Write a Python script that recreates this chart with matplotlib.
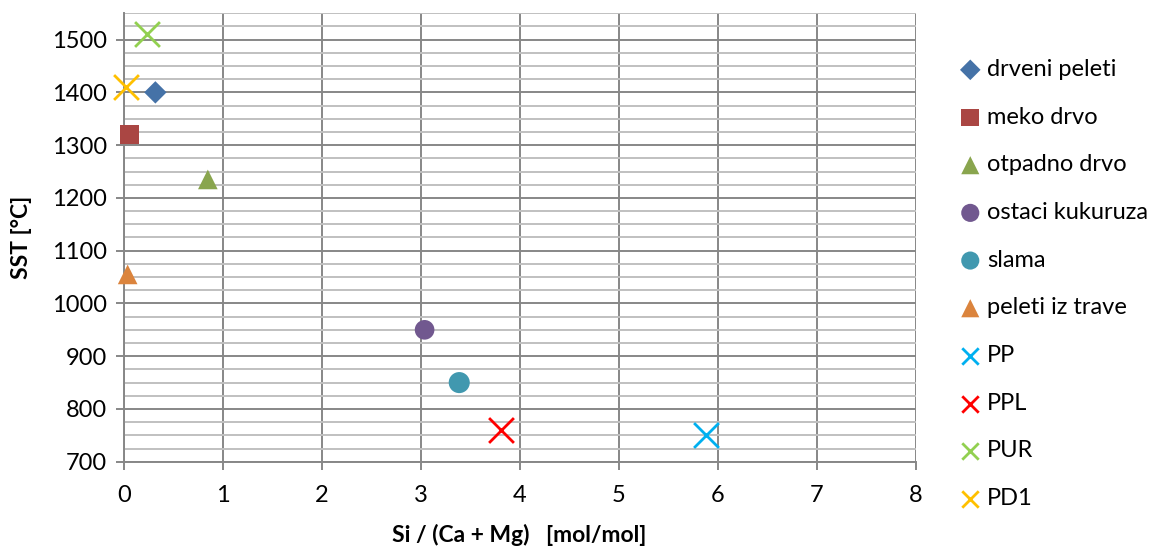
import matplotlib.pyplot as plt
from matplotlib.ticker import MultipleLocator

plt.rcParams['font.family'] = ['Lato', 'DejaVu Sans']

# Data
labels = ['drveni peleti', 'meko drvo', 'otpadno drvo', 'ostaci kukuruza', 'slama',
          'peleti iz trave', 'PP', 'PPL', 'PUR', 'PD1']
si_ratio = [0.32, 0.06, 0.85, 3.04, 3.39, 0.04, 5.88, 3.81, 0.24, 0.02]
sst = [1400, 1320, 1235, 950, 850, 1055, 750, 760, 1510, 1410]

markers = ['D', 's', '^', 'o', 'o', '^', 'x', 'x', 'x', 'x']
colors = ['#4572A7', '#AA4643', '#89A54E', '#71588F', '#4198AF', '#DB843D',
          '#00B0F0', '#FF0000', '#92D050', '#FFC000']
sizes = [130, 190, 200, 200, 230, 200, 320, 320, 320, 320]
legend_sizes = [110, 160, 170, 170, 170, 170, 140, 140, 140, 140]

fig = plt.figure(figsize=(11.56, 5.51), dpi=100)
ax = fig.add_axes([0.107, 0.162, 0.685, 0.814])

for x, y, lab, m, c, s in zip(si_ratio, sst, labels, markers, colors, sizes):
    if m == 'x':
        ax.scatter(x, y, marker=m, color=c, s=s, linewidths=2, label=lab, zorder=3,
                   clip_on=False)
    else:
        ax.scatter(x, y, marker=m, color=c, s=s, label=lab, zorder=3, clip_on=False,
                   edgecolors='none')

ax.set_xlim(0, 8)
ax.set_ylim(700, 1550)
ax.xaxis.set_major_locator(MultipleLocator(1))
ax.yaxis.set_major_locator(MultipleLocator(100))
ax.yaxis.set_minor_locator(MultipleLocator(25))

ax.grid(True, which='major', axis='both', color='#878787', linewidth=1.4)
ax.grid(True, which='minor', axis='y', color='#c0c0c0', linewidth=1.4)
ax.set_axisbelow(True)

for side in ['top', 'right']:
    ax.spines[side].set_visible(False)
for side in ['left', 'bottom']:
    ax.spines[side].set_color('#878787')
    ax.spines[side].set_linewidth(1.4)

ax.tick_params(axis='both', which='major', direction='out', length=6, width=1.4,
               color='#878787', labelsize=17, pad=6)
ax.tick_params(axis='y', which='minor', length=0)
ax.tick_params(axis='x', pad=11)

ax.set_xlabel('Si / (Ca + Mg)   [mol/mol]', fontsize=16.5, fontweight='bold', labelpad=13)
ax.set_ylabel('SST [°C]', fontsize=16.5, fontweight='bold', labelpad=14)

leg = fig.legend(loc='upper left', bbox_to_anchor=(0.823, 0.91), frameon=False,
                 fontsize=17, handlelength=0.8, handletextpad=0.3, labelspacing=1.13,
                 borderaxespad=0, scatterpoints=1)
for h, s in zip(leg.legend_handles, legend_sizes):
    h.set_sizes([s])

fig.savefig('out.png', dpi=100)
